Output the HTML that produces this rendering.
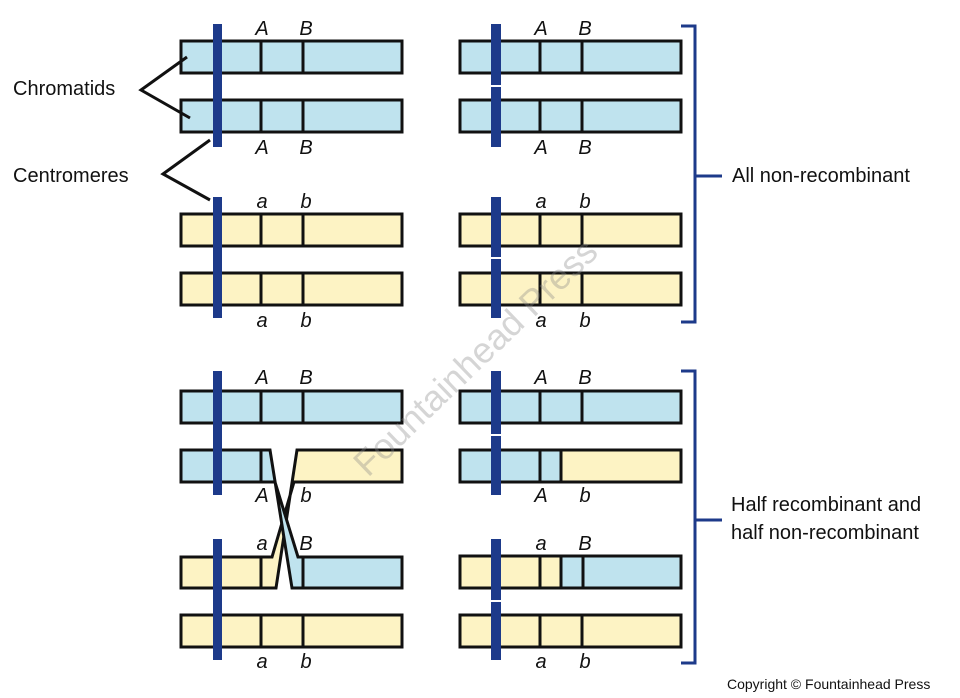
<!DOCTYPE html>
<html><head><meta charset="utf-8"><style>
html,body{margin:0;padding:0;background:#fff;}
svg{display:block;}
text{font-family:"Liberation Sans",sans-serif;}
.g{font-style:italic;font-size:20px;fill:#111;text-anchor:middle;}
.lab{font-size:20px;fill:#111;}
</style></head><body>
<svg width="960" height="698" viewBox="0 0 960 698" xmlns="http://www.w3.org/2000/svg">
<defs>
<g id="bb"><rect x="0" y="0" width="221" height="32" fill="#bfe3ee" stroke="#111" stroke-width="3"/><line x1="80" y1="0" x2="80" y2="32" stroke="#111" stroke-width="3"/><line x1="122" y1="0" x2="122" y2="32" stroke="#111" stroke-width="3"/></g>
<g id="yb"><rect x="0" y="0" width="221" height="32" fill="#fdf3c4" stroke="#111" stroke-width="3"/><line x1="80" y1="0" x2="80" y2="32" stroke="#111" stroke-width="3"/><line x1="122" y1="0" x2="122" y2="32" stroke="#111" stroke-width="3"/></g>
</defs>
<!-- top left -->
<use href="#bb" x="181" y="41"/><use href="#bb" x="181" y="100"/>
<use href="#yb" x="181" y="214"/><use href="#yb" x="181" y="273"/>
<rect x="213" y="24" width="9" height="123" fill="#1d3a8a"/>
<rect x="213" y="197" width="9" height="121" fill="#1d3a8a"/>
<!-- top right -->
<use href="#bb" x="460" y="41"/><use href="#bb" x="460" y="100"/>
<use href="#yb" x="460" y="214"/><use href="#yb" x="460" y="273"/>
<rect x="491" y="24" width="10" height="123" fill="#1d3a8a"/>
<rect x="491" y="197" width="10" height="121" fill="#1d3a8a"/>
<rect x="490" y="85" width="12" height="2" fill="#fff"/>
<rect x="490" y="257" width="12" height="2" fill="#fff"/>
<text class="g" x="262" y="35">A</text><text class="g" x="306" y="35">B</text>
<text class="g" x="262" y="154">A</text><text class="g" x="306" y="154">B</text>
<text class="g" x="262" y="208">a</text><text class="g" x="306" y="208">b</text>
<text class="g" x="262" y="327">a</text><text class="g" x="306" y="327">b</text>
<text class="g" x="541" y="35">A</text><text class="g" x="585" y="35">B</text>
<text class="g" x="541" y="154">A</text><text class="g" x="585" y="154">B</text>
<text class="g" x="541" y="208">a</text><text class="g" x="585" y="208">b</text>
<text class="g" x="541" y="327">a</text><text class="g" x="585" y="327">b</text>
<!-- bottom left -->
<use href="#bb" x="181" y="391"/><use href="#yb" x="181" y="615"/>
<!-- crossover -->
<g stroke="#111" stroke-width="3" stroke-linejoin="miter">
<polygon points="297,450 402,450 402,482 294,482 272,557 181,557 181,588 276,588" fill="#fdf3c4"/>
<polygon points="181,450 270,450 292,588 402,588 402,557 298,557 275,482 181,482" fill="#bfe3ee"/>
<line x1="261" y1="450" x2="261" y2="482"/>
<line x1="261" y1="557" x2="261" y2="588"/>
<line x1="303" y1="557" x2="303" y2="588"/>
</g>
<rect x="213" y="371" width="9" height="124" fill="#1d3a8a"/>
<rect x="213" y="539" width="9" height="121" fill="#1d3a8a"/>
<text class="g" x="262" y="384">A</text><text class="g" x="306" y="384">B</text>
<text class="g" x="262" y="502">A</text><text class="g" x="306" y="502">b</text>
<text class="g" x="262" y="550">a</text><text class="g" x="306" y="550">B</text>
<text class="g" x="262" y="668">a</text><text class="g" x="306" y="668">b</text>
<!-- bottom right -->
<use href="#bb" x="460" y="391"/><use href="#yb" x="460" y="615"/>
<rect x="460" y="450" width="221" height="32" fill="#fdf3c4"/>
<rect x="460" y="450" width="101" height="32" fill="#bfe3ee"/>
<rect x="460" y="450" width="221" height="32" fill="none" stroke="#111" stroke-width="3"/>
<line x1="540" y1="450" x2="540" y2="482" stroke="#111" stroke-width="3"/>
<line x1="561" y1="450" x2="561" y2="482" stroke="#111" stroke-width="3"/>
<rect x="460" y="556" width="221" height="32" fill="#bfe3ee"/>
<rect x="460" y="556" width="101" height="32" fill="#fdf3c4"/>
<rect x="460" y="556" width="221" height="32" fill="none" stroke="#111" stroke-width="3"/>
<line x1="540" y1="556" x2="540" y2="588" stroke="#111" stroke-width="3"/>
<line x1="561" y1="556" x2="561" y2="588" stroke="#111" stroke-width="3"/>
<line x1="583" y1="556" x2="583" y2="588" stroke="#111" stroke-width="3"/>
<rect x="491" y="371" width="10" height="124" fill="#1d3a8a"/>
<rect x="491" y="539" width="10" height="121" fill="#1d3a8a"/>
<rect x="490" y="434" width="12" height="2" fill="#fff"/>
<rect x="490" y="600" width="12" height="2" fill="#fff"/>
<text class="g" x="541" y="384">A</text><text class="g" x="585" y="384">B</text>
<text class="g" x="541" y="502">A</text><text class="g" x="585" y="502">b</text>
<text class="g" x="541" y="550">a</text><text class="g" x="585" y="550">B</text>
<text class="g" x="541" y="668">a</text><text class="g" x="585" y="668">b</text>
<!-- labels -->
<g stroke="#111" stroke-width="3" fill="none">
<polyline points="187,57 141,90 190,118"/>
<polyline points="210,140 163,174 210,200"/>
</g>
<text class="lab" x="13" y="95">Chromatids</text>
<text class="lab" x="13" y="182">Centromeres</text>
<g stroke="#1d3a8a" stroke-width="3" fill="none">
<polyline points="681,26 695,26 695,322 681,322"/>
<line x1="695" y1="176" x2="722" y2="176"/>
<polyline points="681,371 695,371 695,663 681,663"/>
<line x1="695" y1="520" x2="722" y2="520"/>
</g>
<text class="lab" x="732" y="182">All non-recombinant</text>
<text class="lab" x="731" y="511">Half recombinant and</text>
<text class="lab" x="731" y="539">half non-recombinant</text>
<text x="727" y="689" style="font-size:14px;fill:#111;">Copyright © Fountainhead Press</text>
<text x="0" y="0" transform="translate(368,478) rotate(-44)" style="font-size:36px;fill:#888;fill-opacity:0.35;">Fountainhead Press</text>
</svg>
</body></html>
